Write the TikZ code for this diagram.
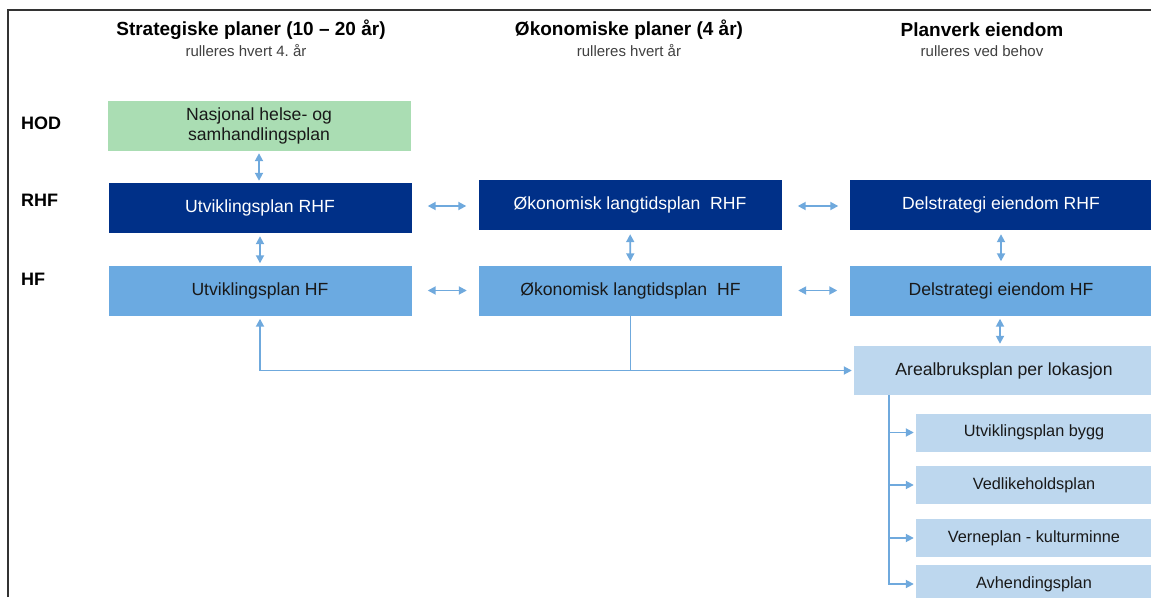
\documentclass[tikz,border=0pt]{standalone}
\usepackage{fontspec}
\setmainfont{Liberation Sans}
\usepackage{tikz}
\usetikzlibrary{positioning,arrows.meta}
\definecolor{navy}{HTML}{003088}
\definecolor{midblue}{HTML}{6BAAE1}
\definecolor{paleblue}{HTML}{BDD7EE}
\definecolor{palegreen}{HTML}{AADDB3}
\definecolor{arrowblue}{HTML}{6FA9DD}
\definecolor{frame}{HTML}{333333}

\begin{document}
\begin{tikzpicture}[x=1pt,y=-1pt]
\tikzstyle{box}=[inner sep=0pt,align=center,font=\fontsize{17.6}{20}\selectfont]
\tikzstyle{rhfbox}=[box,fill=navy,text=white,minimum width=303pt,minimum height=50pt]
\tikzstyle{hfbox}=[box,fill=midblue,text=black!90,minimum width=303pt,minimum height=50pt]
\tikzstyle{subbox}=[box,fill=paleblue,text=black!90,minimum width=236pt,minimum height=38pt,font=\fontsize{16.3}{19}\selectfont]
\tikzstyle{head}=[inner sep=0pt,font=\fontsize{19}{22}\selectfont\bfseries]
\tikzstyle{subhead}=[inner sep=0pt,text=black!75,font=\fontsize{15}{18}\selectfont]
\tikzstyle{lvl}=[anchor=west,inner sep=0pt,font=\fontsize{18}{21}\selectfont\bfseries]
\tikzstyle{arr}=[{Triangle[length=8pt,width=8pt]}-{Triangle[length=8pt,width=8pt]},arrowblue,line width=1.8pt]
\tikzstyle{to}=[-{Triangle[length=8pt,width=8pt]},arrowblue,line width=1.8pt]
    \useasboundingbox (0,0) rectangle (1151,597);
    \draw[frame,line width=2pt] (8,597) -- (8,10) -- (1151,10);
    % column heads
    \node[head] (h1) at (251,30) {Strategiske planer (10 -- 20 år)};
    \node[subhead] (s1) at (246,51) {rulleres hvert 4.\ år};
    \node[head] (h2) at (629,30) {Økonomiske planer (4 år)};
    \node[subhead] (s2) at (629,51) {rulleres hvert år};
    \node[head] (h3) at (982,30) {Planverk eiendom};
    \node[subhead] (s3) at (982,51) {rulleres ved behov};
    % levels
    \node[lvl] (hod) at (21,123) {HOD};
    \node[lvl] (rhf) at (21,200) {RHF};
    \node[lvl] (hf) at (21,279) {HF};
    % boxes
    \node[box,fill=palegreen,text=black!90,minimum width=303pt,minimum height=50pt] (nhp) at (259,126) {Nasjonal helse- og\\samhandlingsplan};
    \node[rhfbox] (urhf) at (260,208) {Utviklingsplan RHF};
    \node[rhfbox] (orhf) at (630,205) {Økonomisk langtidsplan\ \ RHF};
    \node[rhfbox] (drhf) at (1001,205) {Delstrategi eiendom RHF};
    \node[hfbox] (uhf) at (260,290.5) {Utviklingsplan HF};
    \node[hfbox] (ohf) at (630.5,290.5) {Økonomisk langtidsplan\ \ HF};
    \node[hfbox] (dhf) at (1001,290.5) {Delstrategi eiendom HF};
    \node[box,fill=paleblue,text=black!90,minimum width=300pt,minimum height=49pt] (areal) at (1004,370.5) {Arealbruksplan per lokasjon};
    \node[subbox] (ubygg) at (1034,432.5) {Utviklingsplan bygg};
    \node[subbox] (vedl) at (1034,485) {Vedlikeholdsplan};
    \node[subbox] (vern) at (1034,538) {Verneplan - kulturminne};
    \node[subbox] (avh) at (1034,584) {Avhendingsplan};
    % arrows
    \draw[arr,shorten <=2pt,shorten >=2pt] (nhp) -- (nhp |- urhf.north);
    \draw[arr,shorten <=3pt,shorten >=2pt] (urhf) -- (urhf |- uhf.north);
    \draw[arr,shorten <=4pt,shorten >=4pt] (orhf) -- (ohf);
    \draw[arr,shorten <=4pt,shorten >=4pt] (drhf) -- (dhf);
    \draw[arr,shorten <=3pt,shorten >=2pt] (dhf.south -| 1000,0) -- (areal.north -| 1000,0);
    \draw[arr,shorten <=16pt,shorten >=12pt] (urhf.east |- 0,206) -- (orhf.west |- 0,206);
    \draw[arr,shorten <=16pt,shorten >=11pt] (orhf.east |- 0,206) -- (drhf.west |- 0,206);
    \draw[arr,shorten <=16pt,shorten >=12pt] (uhf.east) -- (ohf.west);
    \draw[arr,shorten <=16pt,shorten >=12pt] (ohf.east) -- (dhf.west);
    \coordinate (split) at (ohf.south |- areal.west);
    \draw[to,shorten >=2pt] (ohf.south) |- (areal.west);
    \draw[to,shorten >=3pt] (split) -| (uhf.south);
    % sub plans
    \coordinate (trunk) at (889,395);
    \draw[to,shorten >=2pt] (trunk) |- (ubygg.west);
    \draw[to,shorten >=2pt] (trunk) |- (vedl.west);
    \draw[to,shorten >=2pt] (trunk) |- (vern.west);
    \draw[to,shorten >=2pt] (trunk) |- (avh.west);
\end{tikzpicture}
\end{document}
